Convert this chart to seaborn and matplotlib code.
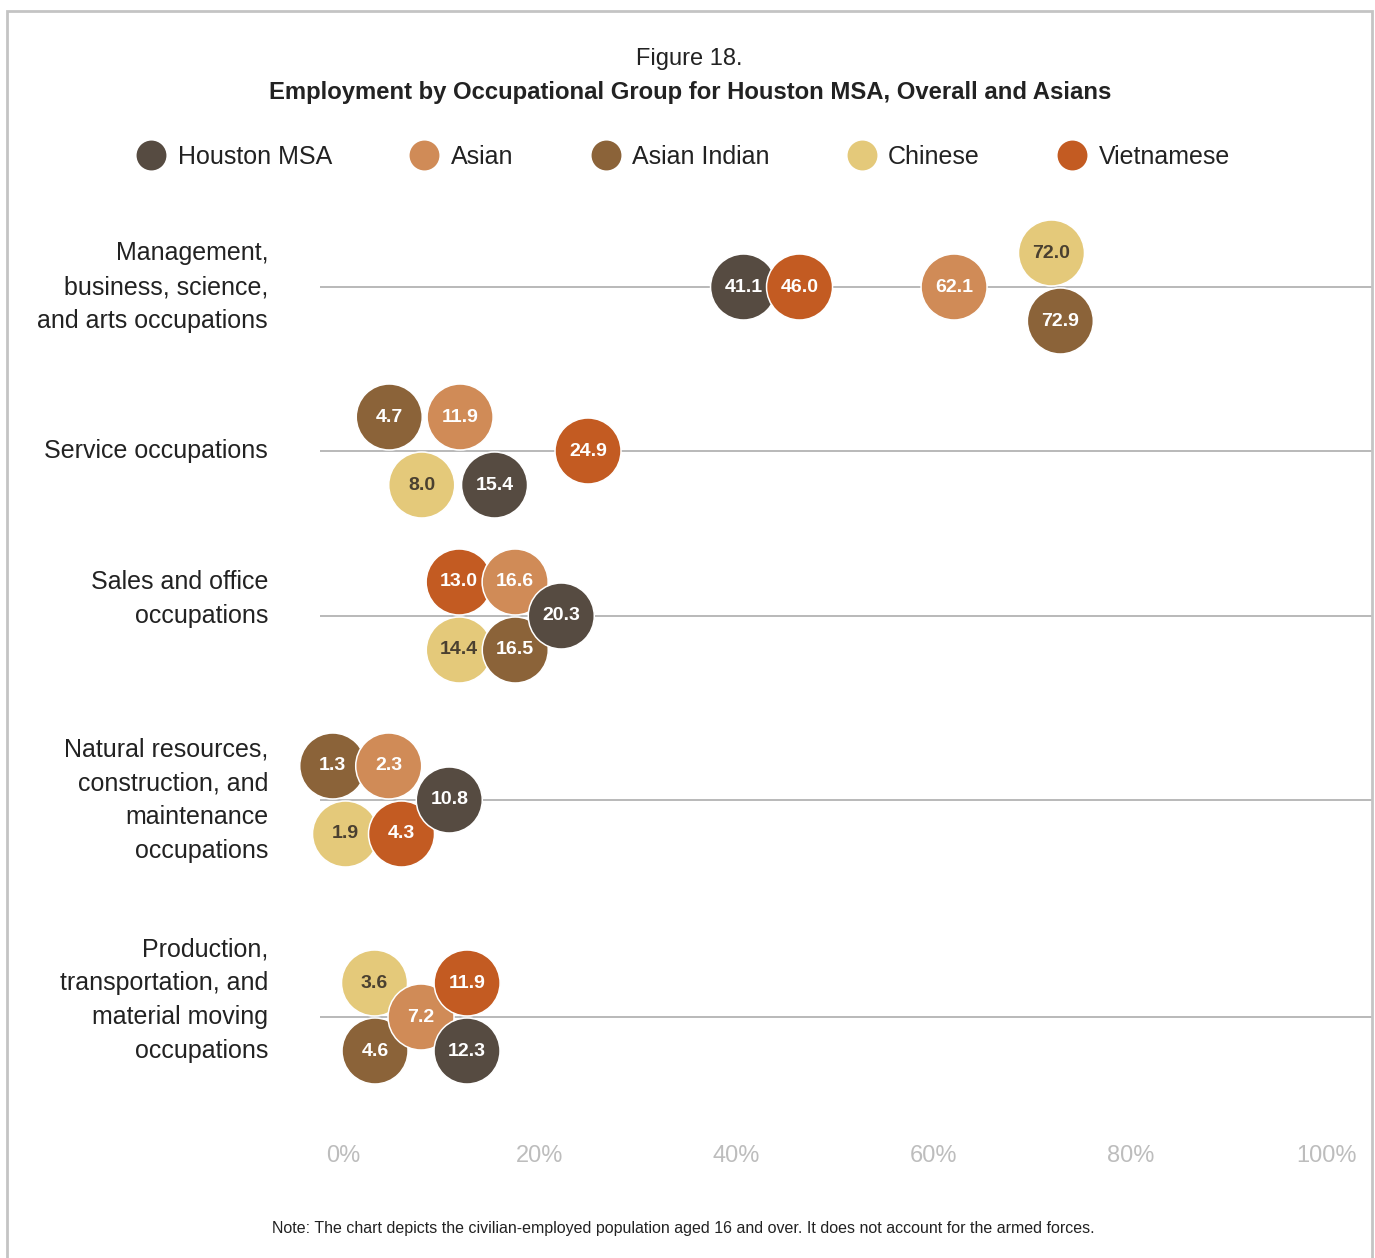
import itertools
import numpy as np
import pandas as pd
import matplotlib
matplotlib.use("Agg")
import matplotlib.pyplot as plt
from matplotlib.lines import Line2D
from matplotlib.patches import Rectangle
from matplotlib.transforms import blended_transform_factory, IdentityTransform
import seaborn as sns

# ---- data -------------------------------------------------------------
occupations = [
    "Management,\nbusiness, science,\nand arts occupations",
    "Service occupations",
    "Sales and office\noccupations",
    "Natural resources,\nconstruction, and\nmaintenance\noccupations",
    "Production,\ntransportation, and\nmaterial moving\noccupations",
]
groups = ["Houston MSA", "Asian", "Asian Indian", "Chinese", "Vietnamese"]
houston_msa = [41.1, 15.4, 20.3, 10.8, 12.3]
asian = [62.1, 11.9, 16.6, 2.3, 7.2]
asian_indian = [72.9, 4.7, 16.5, 1.3, 4.6]
chinese = [72.0, 8.0, 14.4, 1.9, 3.6]
vietnamese = [46.0, 24.9, 13.0, 4.3, 11.9]
x_ticks = [0, 20, 40, 60, 80, 100]
x_tick_labels = ["0%", "20%", "40%", "60%", "80%", "100%"]

# ---- style -------------------------------------------------------------
colors = {
    "Houston MSA": "#564b41",
    "Asian": "#d08b57",
    "Asian Indian": "#8b6339",
    "Chinese": "#e4c97a",
    "Vietnamese": "#c35b22",
}
label_colors = {g: "white" for g in groups}
label_colors["Chinese"] = "#4a4030"

sns.set_theme(style="white")
plt.rcParams["font.family"] = ["Liberation Sans", "DejaVu Sans"]

W, H = 1375, 1258
fig = plt.figure(figsize=(W / 100, H / 100), dpi=100)
fig.patch.set_facecolor("white")


def fx(px):
    return px / W


def fy(py):
    return 1 - py / H


# plotting area, y data measured in pixels from the top
AX_L, AX_R, AX_T, AX_B = 320, 1372, 200, 1128
ax = fig.add_axes([fx(AX_L), fy(AX_B), fx(AX_R) - fx(AX_L), fy(AX_T) - fy(AX_B)])
ZERO_PX, PX_PER_PCT = 343, 9.84
ax.set_xlim((AX_L - ZERO_PX) / PX_PER_PCT, (AX_R - ZERO_PX) / PX_PER_PCT)
ax.set_ylim(AX_B, AX_T)

row_y = [287, 451, 616, 800, 1017]
label_shift = [0, 0, -17, 0, -17]

# ---- bubble packing (display pixels) -------------------------------------
BUBBLE_D = 66      # drawn bubble diameter
LANE = 34          # vertical offset of the upper / lower lane
GAP_SAME = 56      # horizontal spacing of bubbles sharing a lane
GAP_CENTER = 46    # horizontal spacing between centre-lane and side-lane bubbles
LANE_COST = 40     # penalty for moving a bubble off the centre line


def spread(tx, lanes, iters=160):
    """Pull bubbles toward their values while keeping lane spacing."""
    x = tx.astype(float).copy()
    order = np.argsort(tx, kind="stable")
    pairs = []
    for a in range(len(order)):
        for b in range(a + 1, len(order)):
            i, j = order[a], order[b]
            li, lj = lanes[i], lanes[j]
            if li == lj:
                pairs.append((i, j, GAP_SAME))
            elif li == 0 or lj == 0:
                pairs.append((i, j, GAP_CENTER))
    if not pairs:
        return x
    for it in range(iters):
        if it < iters - 20:
            x += (tx - x) * 0.15
        for _ in range(3):
            for i, j, g in pairs:
                short = g - (x[j] - x[i])
                if short > 0:
                    x[i] -= short / 2
                    x[j] += short / 2
    return x


def pack_row(tx):
    n = len(tx)
    order = np.argsort(tx, kind="stable")
    best, best_cost = None, np.inf
    for combo in itertools.product([0, 1, -1], repeat=n):
        lanes = np.empty(n, dtype=int)
        lanes[order] = combo
        x = spread(tx, lanes)
        cost = np.sum((x - tx) ** 2) + LANE_COST * np.count_nonzero(lanes)
        if cost < best_cost - 1e-6:
            best, best_cost = (x, lanes), cost
    return best


series = [houston_msa, asian, asian_indian, chinese, vietnamese]
records = []
to_disp = ax.transData
to_data = ax.transData.inverted()
for r, occ in enumerate(occupations):
    vals = np.array([s[r] for s in series])
    pts = to_disp.transform(np.column_stack([vals, np.full(len(vals), row_y[r])]))
    bx, lanes = pack_row(pts[:, 0])
    by = pts[:, 1] + lanes * LANE
    placed = to_data.transform(np.column_stack([bx, by]))
    for g, v, (px, py) in zip(groups, vals, placed):
        records.append({"occupation": occ, "group": g, "value": v, "x": px, "y": py})

df = pd.DataFrame(records).sort_values("value", kind="stable").reset_index(drop=True)

# row guide lines
for yv in row_y:
    ax.axhline(yv, color="#b3b3b3", lw=1.3, zorder=1)

size_pt = BUBBLE_D * 72 / 100
sns.scatterplot(data=df, x="x", y="y", hue="group", palette=colors,
                s=size_pt ** 2, edgecolor="white", linewidth=1.1,
                legend=False, ax=ax, zorder=3, clip_on=False)

for _, row in df.iterrows():
    ax.text(row["x"], row["y"], f"{row['value']:.1f}", ha="center", va="center",
            fontsize=14, fontweight="bold", color=label_colors[row["group"]],
            zorder=4, clip_on=False)

# occupation labels to the left
lab_tr = blended_transform_factory(IdentityTransform(), ax.transData)
for occ, yv, sh in zip(occupations, row_y, label_shift):
    ax.text(268, yv + sh, occ, transform=lab_tr, ha="right", va="center",
            fontsize=18, color="#222222", linespacing=1.52, clip_on=False)

ax.set_xticks(x_ticks)
ax.set_xticklabels(x_tick_labels, fontsize=17, color="#bdbdbd")
ax.set_yticks([])
ax.tick_params(axis="x", length=0, pad=12)
ax.set_xlabel("")
ax.set_ylabel("")
for sp in ax.spines.values():
    sp.set_visible(False)
ax.patch.set_alpha(0)

# titles
fig.text(fx(689), fy(59), "Figure 18.", ha="center", va="center", fontsize=17, color="#222222")
fig.text(fx(690), fy(93), "Employment by Occupational Group for Houston MSA, Overall and Asians",
         ha="center", va="center", fontsize=17.2, fontweight="bold", color="#222222")

# legend
handles = [Line2D([0], [0], marker="o", linestyle="none", markersize=21.5,
                  markerfacecolor=colors[g], markeredgecolor="none") for g in groups]
fig.legend(handles, groups, loc="center", bbox_to_anchor=(fx(683), fy(157)),
           ncol=5, frameon=False, fontsize=18, handlelength=1.2,
           handletextpad=0.45, columnspacing=3.1, labelcolor="#222222")

# footnote
fig.text(fx(683), fy(1229),
         "Note: The chart depicts the civilian-employed population aged 16 and over. "
         "It does not account for the armed forces.",
         ha="center", va="center", fontsize=11.5, color="#222222")

# outer frame
fig.patches.append(Rectangle((fx(7), fy(H + 5)), fx(1372) - fx(7), fy(11) - fy(H + 5),
                             transform=fig.transFigure, fill=False,
                             edgecolor="#c4c4c4", linewidth=2.0, zorder=0))

fig.savefig("out.png", dpi=100)
